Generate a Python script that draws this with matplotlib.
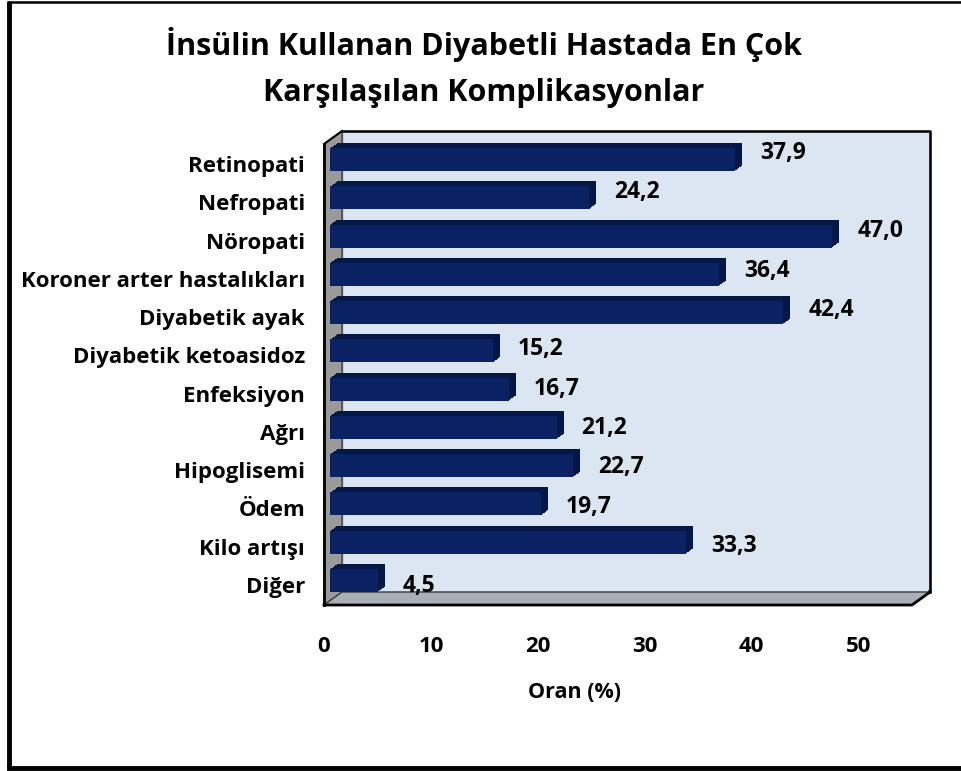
import matplotlib
matplotlib.use("Agg")
import matplotlib.pyplot as plt
from matplotlib import transforms
from matplotlib.patches import Polygon, Rectangle

plt.rcParams['font.family'] = ['Open Sans', 'DejaVu Sans']
plt.rcParams['font.weight'] = 'bold'

categories = ['Retinopati', 'Nefropati', 'Nöropati', 'Koroner arter hastalıkları',
              'Diyabetik ayak', 'Diyabetik ketoasidoz', 'Enfeksiyon', 'Ağrı',
              'Hipoglisemi', 'Ödem', 'Kilo artışı', 'Diğer']
values = [37.9, 24.2, 47.0, 36.4, 42.4, 15.2, 16.7, 21.2, 22.7, 19.7, 33.3, 4.5]
xticks = [0, 10, 20, 30, 40, 50]

W, H = 961, 771
fig = plt.figure(figsize=(W / 100, H / 100), dpi=100)

def px_box(x0, y0, x1, y1):
    # pixel box (top-left origin) -> figure fraction
    return [x0 / W, 1 - y1 / H, (x1 - x0) / W, (y1 - y0) / H]

# background canvas in pixel coordinates
bg = fig.add_axes([0, 0, 1, 1], zorder=0)
bg.set_xlim(0, W)
bg.set_ylim(H, 0)
bg.axis('off')

# outer frame
bg.plot([9, 9], [1, 768], color='black', lw=3.5, solid_capstyle='butt')
bg.plot([9, W], [1.5, 1.5], color='black', lw=1.8)
bg.plot([9, W], [768, 768], color='black', lw=3.5)

dx, dy = 18, 13
fl, fr, ft, fb = 324, 912, 144, 605   # front plane
# back wall
bg.add_patch(Rectangle((fl + dx, ft - dy), fr - fl, fb - ft, facecolor='#dce6f2',
                       edgecolor='#7f7f7f', lw=1))
bg.plot([fl + dx, fr + dx, fr + dx], [ft - dy, ft - dy, fb - dy], color='black', lw=1.8)
# side wall
bg.add_patch(Polygon([(fl, ft), (fl + dx, ft - dy), (fl + dx, fb - dy), (fl, fb)],
                     closed=True, facecolor='#9a9a9a', edgecolor='#404040', lw=1))
bg.plot([fl, fl], [ft, fb], color='black', lw=2)
bg.plot([fl, fl + dx], [ft, ft - dy], color='black', lw=1.5)
# floor
bg.add_patch(Polygon([(fl, fb), (fr, fb), (fr + dx, fb - dy), (fl + dx, fb - dy)],
                     closed=True, facecolor='#a9b0b8', edgecolor='#404040', lw=1))
bg.plot([fl, fr, fr + dx, fr + dx], [fb, fb, fb - dy, fb - dy - 1], color='black', lw=2)

# title
bg.text(484, 45, 'İnsülin Kullanan Diyabetli Hastada En Çok', ha='center', va='center',
        fontsize=22, fontweight='bold')
bg.text(484, 93, 'Karşılaşılan Komplikasyonlar', ha='center', va='center',
        fontsize=22, fontweight='bold')
bg.text(575, 693, 'Oran (%)', ha='center', va='center', fontsize=15.5, fontweight='bold')

# front plane axes: x tick labels
axf = fig.add_axes(px_box(fl, ft, fr, fb), zorder=1)
axf.patch.set_visible(False)
for s in axf.spines.values():
    s.set_visible(False)
axf.set_xlim(0, 55)
axf.set_xticks(xticks)
axf.set_xticklabels([str(t) for t in xticks], fontsize=16, fontweight='bold')
axf.tick_params(axis='x', length=0, pad=22)
axf.set_yticks([])

# bar axes (front face of bars sits 1/3 into the depth)
bx, by = 6, 4.3
ax = fig.add_axes(px_box(fl + bx, ft - by, fr + bx, fb - by), zorder=2)
ax.patch.set_visible(False)
for s in ax.spines.values():
    s.set_visible(False)
ax.set_xlim(0, 55)
ax.set_xticks([])
ypos = list(range(len(categories)))
bh = 0.6
# extruded depth of the bars
ex, ey = 7, 5
for k in range(1, ex + 1):
    sh = transforms.ScaledTranslation(k / 100, k * ey / ex / 100, fig.dpi_scale_trans)
    ax.barh(ypos, values, height=bh, color='#051845', transform=ax.transData + sh,
            clip_on=False, linewidth=0)
ax.barh(ypos, values, height=bh, color='#0a2263', clip_on=False, linewidth=0)
ax.set_ylim(11.53, -0.52)
ax.set_yticks(ypos)
ax.set_yticklabels(categories, fontsize=16, fontweight='bold')
ax.tick_params(axis='y', length=0, pad=18)
for lab in ax.get_yticklabels():
    lab.set_transform(lab.get_transform() +
                      transforms.ScaledTranslation(0, -0.045, fig.dpi_scale_trans))

for i, v in enumerate(values):
    ax.annotate(f'{v:.1f}'.replace('.', ','), xy=(v, i), xytext=(18, (7 - 1.1 * i) * 0.72),
                textcoords='offset points', ha='left', va='center',
                fontsize=16.5, fontweight='bold', annotation_clip=False)

fig.savefig('out.png', dpi=100)
